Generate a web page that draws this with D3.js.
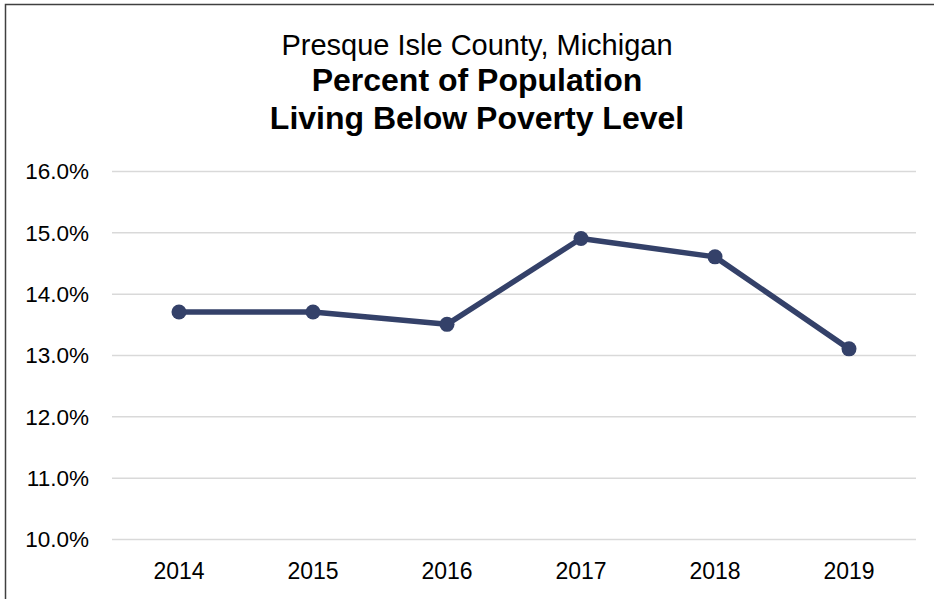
<!DOCTYPE html>
<html>
<head>
<meta charset="utf-8">
<script src="https://cdn.jsdelivr.net/npm/d3@7"></script>
<style>
  body { margin: 0; background: #fff; }
  svg { display: block; font-family: "Liberation Sans", Arial, sans-serif; }
</style>
</head>
<body>
<div id="chart"></div>
<script>
// Data
var years = ["2014", "2015", "2016", "2017", "2018", "2019"];
var poverty = [13.7, 13.7, 13.5, 14.9, 14.6, 13.1];
var yTicks = [10, 11, 12, 13, 14, 15, 16];
var titleLines = ["Presque Isle County, Michigan", "Percent of Population", "Living Below Poverty Level"];

var W = 934, H = 599;
var margin = { top: 171, right: 18, bottom: 60, left: 112 },
  width = W - margin.left - margin.right,
  height = 539 - margin.top;

var svg = d3
  .select("#chart")
  .append("svg")
  .attr("width", W)
  .attr("height", H);

// chart border (only top and left visible in the frame)
svg
  .append("rect")
  .attr("x", 5.5)
  .attr("y", 4.5)
  .attr("width", W + 20)
  .attr("height", H + 20)
  .attr("fill", "none")
  .attr("stroke", "#404040")
  .attr("stroke-width", 1.5);

// title
svg
  .selectAll(".title")
  .data(titleLines)
  .enter()
  .append("text")
  .attr("class", "title")
  .attr("x", 477)
  .attr("y", (d, i) => [55, 91, 129][i])
  .attr("text-anchor", "middle")
  .style("font-size", (d, i) => (i === 0 ? "29px" : "32px"))
  .style("font-weight", (d, i) => (i === 0 ? "normal" : "bold"))
  .style("fill", "#000")
  .text((d) => d);

var g = svg
  .append("g")
  .attr("transform", "translate(" + margin.left + "," + margin.top + ")");

var x = d3.scaleBand().domain(years).range([0, width]);
var y = d3.scaleLinear().domain([10, 16]).range([height, 0]);

// gridlines + y labels
var yAxis = g
  .append("g")
  .call(
    d3.axisLeft(y)
      .tickValues(yTicks)
      .tickSize(-width)
      .tickFormat((d) => d.toFixed(1) + "%")
  );
yAxis.select(".domain").remove();
yAxis.selectAll("line").attr("stroke", "#d9d9d9").attr("stroke-width", 1.5);
yAxis
  .selectAll("text")
  .attr("x", -23)
  .attr("dy", "0.35em")
  .style("font-size", "22.5px")
  .style("font-family", "Liberation Sans, Arial, sans-serif")
  .attr("fill", "#000");

// x labels
var xAxis = g
  .append("g")
  .attr("transform", "translate(0," + height + ")")
  .call(d3.axisBottom(x).tickSize(0));
xAxis.select(".domain").remove();
xAxis
  .selectAll("text")
  .attr("y", 40)
  .attr("dy", 0)
  .style("font-size", "23px")
  .style("font-family", "Liberation Sans, Arial, sans-serif")
  .attr("fill", "#000");

var pts = years.map((d, i) => ({ year: d, value: poverty[i] }));
var line = d3
  .line()
  .x((d) => x(d.year) + x.bandwidth() / 2)
  .y((d) => y(d.value));

g.append("path")
  .datum(pts)
  .attr("d", line)
  .attr("fill", "none")
  .attr("stroke", "#344169")
  .attr("stroke-width", 5.5)
  .attr("stroke-linejoin", "round");

g.selectAll(".dot")
  .data(pts)
  .enter()
  .append("circle")
  .attr("class", "dot")
  .attr("cx", (d) => x(d.year) + x.bandwidth() / 2)
  .attr("cy", (d) => y(d.value))
  .attr("r", 7.5)
  .attr("fill", "#344169");
</script>
</body>
</html>
